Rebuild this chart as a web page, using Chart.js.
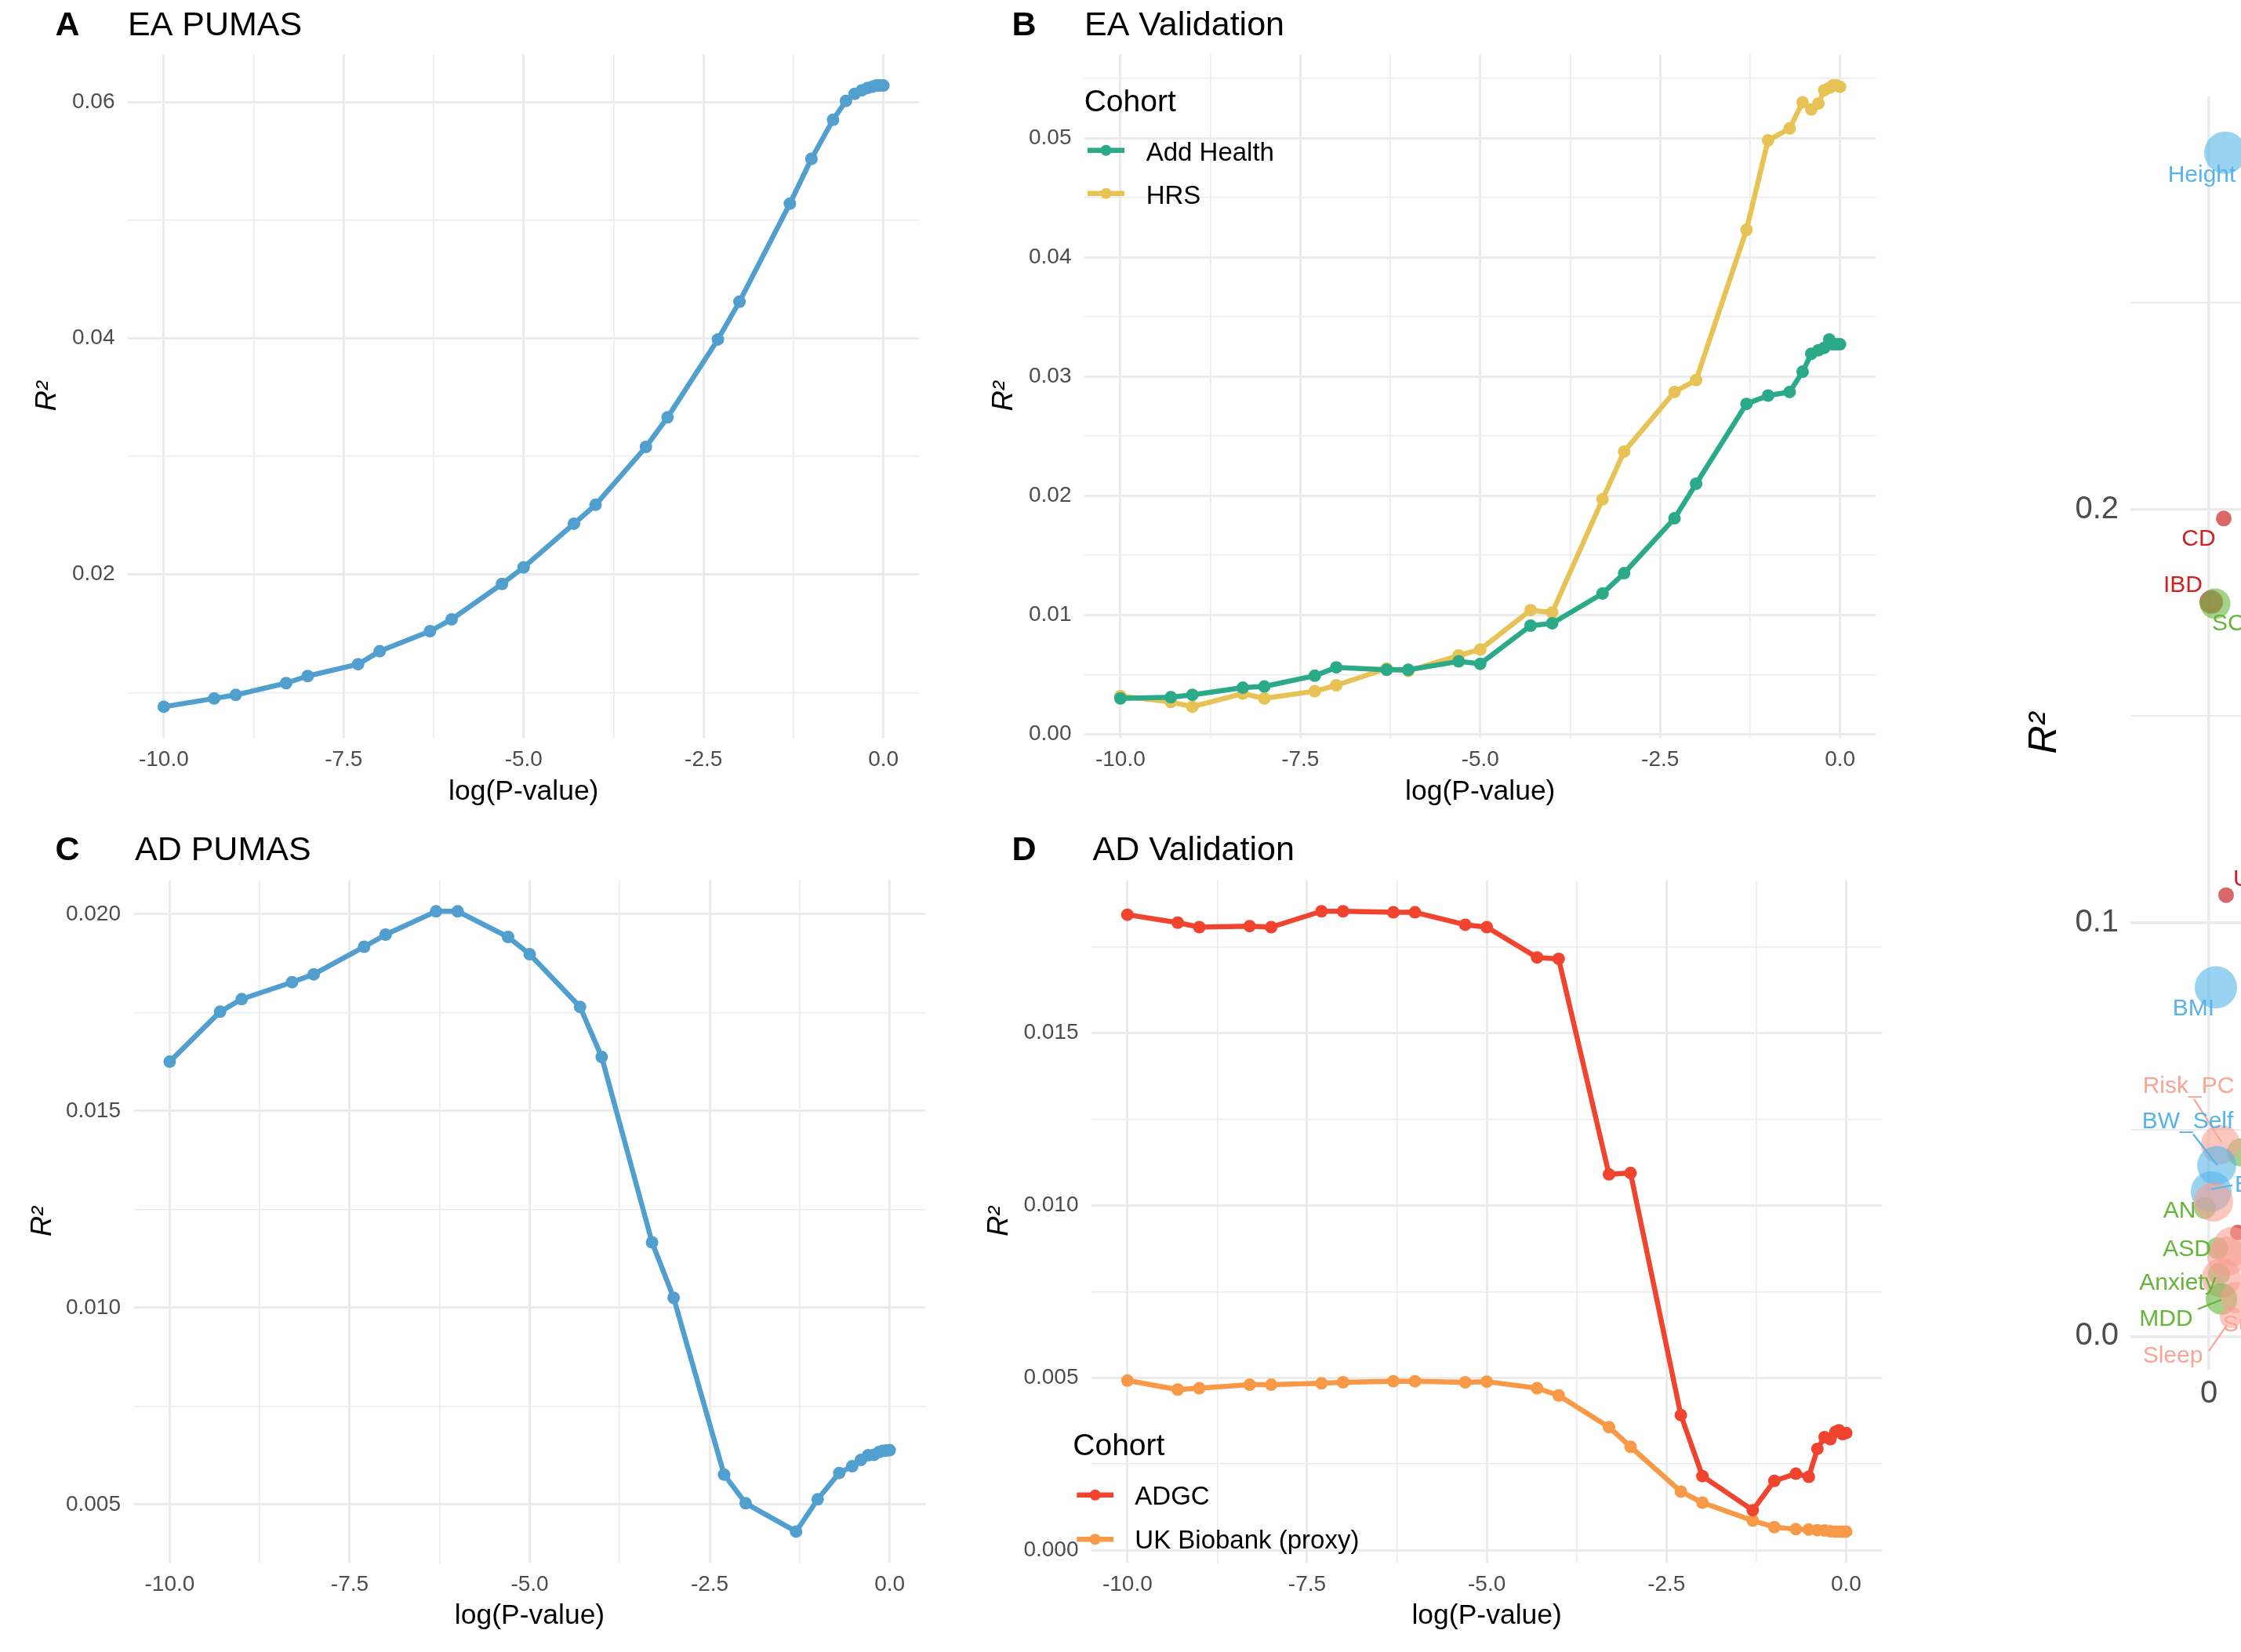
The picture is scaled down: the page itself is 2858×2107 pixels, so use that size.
<!DOCTYPE html>
<html>
<head>
<meta charset="utf-8">
<title>PUMAS R² across p-value thresholds</title>
<script src="https://cdn.jsdelivr.net/npm/chart.js@4.4.1/dist/chart.umd.min.js"></script>
<style>
  html, body { margin: 0; padding: 0; background: #ffffff; overflow: hidden; }
  body { position: relative; width: 2858px; height: 2107px; }
  canvas { position: absolute; display: block; }
</style>
</head>
<body>
<canvas id="panelA" width="1220" height="1050" style="left:0px;top:0px;width:1220px;height:1050px"></canvas>
<canvas id="panelB" width="1230" height="1050" style="left:1220px;top:0px;width:1230px;height:1050px"></canvas>
<canvas id="panelC" width="1220" height="1057" style="left:0px;top:1050px;width:1220px;height:1057px"></canvas>
<canvas id="panelD" width="1230" height="1057" style="left:1220px;top:1050px;width:1230px;height:1057px"></canvas>
<canvas id="panelE" width="1400" height="2107" style="left:2560px;top:0px;width:1400px;height:2107px"></canvas>
<script>
// ---------------------------------------------------------------------------
// Data
// ---------------------------------------------------------------------------
// x positions: log10 of the GWAS p-value cut-off used to build each score
const logP = [-10, -9.3, -9, -8.3, -8, -7.3, -7, -6.3, -6, -5.3, -5, -4.3, -4, -3.3,
              -3, -2.3, -2, -1.3, -1, -0.7, -0.52, -0.4, -0.3, -0.22, -0.15, -0.1, -0.05, 0];

// A: educational attainment, PUMAS estimate
const eaPumasR2 = [0.0088, 0.0095, 0.0098, 0.0108, 0.0114, 0.0124, 0.0135, 0.0152, 0.0162, 0.0192,
                   0.0206, 0.0243, 0.0259, 0.0308, 0.0333, 0.0399, 0.0431, 0.0514, 0.0552, 0.0585,
                   0.0601, 0.0607, 0.0610, 0.0612, 0.0613, 0.0614, 0.0614, 0.0614];

// B: educational attainment, external cohorts
const eaAddHealthR2 = [0.0030, 0.0031, 0.0033, 0.0039, 0.0040, 0.0049, 0.0056, 0.0054, 0.0054, 0.0061,
                       0.0059, 0.0091, 0.0093, 0.0118, 0.0135, 0.0181, 0.0210, 0.0277, 0.0284, 0.0287,
                       0.0304, 0.0319, 0.0322, 0.0324, 0.0331, 0.0327, 0.0327, 0.0327];
const eaHrsR2 = [0.0032, 0.0027, 0.0023, 0.0034, 0.0030, 0.0036, 0.0041, 0.0055, 0.0053, 0.0066,
                 0.0071, 0.0104, 0.0102, 0.0197, 0.0237, 0.0287, 0.0297, 0.0423, 0.0498, 0.0508,
                 0.0530, 0.0524, 0.0529, 0.0540, 0.0542, 0.0544, 0.0544, 0.0543];

// C: Alzheimer's disease, PUMAS estimate
const adPumasR2 = [0.01625, 0.01752, 0.01784, 0.01827, 0.01847, 0.01917, 0.01948, 0.02007, 0.02007, 0.01942,
                   0.01898, 0.01764, 0.01637, 0.01166, 0.01025, 0.00576, 0.00503, 0.00431, 0.00513, 0.00580,
                   0.00597, 0.00613, 0.00625, 0.00626, 0.00633, 0.00636, 0.00637, 0.00638];

// D: Alzheimer's disease, external cohorts
const adAdgcR2 = [0.01843, 0.01820, 0.01807, 0.01810, 0.01807, 0.01853, 0.01853, 0.01850, 0.01850, 0.01814,
                  0.01807, 0.01719, 0.01715, 0.01090, 0.01094, 0.00392, 0.00215, 0.00116, 0.00201, 0.00222,
                  0.00213, 0.00294, 0.00328, 0.00322, 0.00343, 0.00348, 0.00337, 0.00340];
const adUkbR2 = [0.00492, 0.00466, 0.00470, 0.00480, 0.00480, 0.00484, 0.00487, 0.00490, 0.00490, 0.00487,
                 0.00489, 0.00470, 0.00449, 0.00357, 0.00300, 0.00170, 0.00138, 0.00086, 0.00067, 0.00061,
                 0.00060, 0.00058, 0.00057, 0.00055, 0.00054, 0.00054, 0.00054, 0.00054];

// Labelled tick positions on the p-value axis
const xTickValues = [-10, -7.5, -5, -2.5, 0];
const xTickLabels = ['-10.0', '-7.5', '-5.0', '-2.5', '0.0'];

// E: trait overview (bubble radius encodes the bubble size value)
const eTraits  = ['AN', 'ASD', 'Anxiety', 'Height', 'CD', 'IBD', 'SCZ', 'UC', 'BMI', '',
                  'Risk_PC', 'BW_Self', 'BW_Fetal', '', '', '', '', '', 'MDD', 'Suicide', 'Sleep'];
const eGroups  = ['psych', 'psych', 'psych', 'anthro', 'immune', 'immune', 'psych', 'immune', 'anthro', 'psych',
                  'other', 'anthro', 'anthro', 'other', 'immune', 'other', 'other', 'other', 'psych', 'other', 'other'];
const eX       = [-0.005, 0.011, 0.013, 0.021, 0.019, 0.003, 0.008, 0.022, 0.009, 0.041,
                  0.015, 0.010, 0.003, 0.006, 0.037, 0.030, 0.023, 0.016, 0.016, 0.035, 0.028];
const eY       = [0.0310, 0.0213, 0.0151, 0.2863, 0.1978, 0.1776, 0.1772, 0.1067, 0.0844, 0.0445,
                  0.0464, 0.0413, 0.0350, 0.0325, 0.0251, 0.0217, 0.0193, 0.0141, 0.0090, 0.0094, 0.0046];
const eRadius  = [14, 14, 14, 27, 10, 15, 19.5, 10, 27, 18,
                  25, 25, 26, 25, 10, 25, 25, 25, 20, 20, 14];

// ---------------------------------------------------------------------------
// Styling
// ---------------------------------------------------------------------------
const FONT = "'Liberation Sans', Arial, Helvetica, sans-serif";
const GRID = '#EBEBEB';
const TICK_TEXT = '#4D4D4D';

Chart.defaults.font.family = FONT;
Chart.defaults.color = TICK_TEXT;
Chart.defaults.animation = false;

const groupFill = {
  anthro: 'rgba(86,180,233,0.6)',
  immune: 'rgba(204,40,40,0.7)',
  psych:  'rgba(102,180,60,0.6)',
  other:  'rgba(248,160,145,0.6)'
};
const groupText = {
  anthro: '#56B4E9',
  immune: '#CC2222',
  psych:  '#66B43C',
  other:  '#F8A598'
};

const near = (v, step) => Math.abs(v / step - Math.round(v / step)) < 1e-6;

// ggplot-style 5% expansion around the data
function paddedRange(arrays, frac) {
  const all = [].concat(...arrays);
  const lo = Math.min(...all), hi = Math.max(...all);
  const pad = (hi - lo) * frac;
  return [lo - pad, hi + pad];
}

// ---------------------------------------------------------------------------
// Plugins
// ---------------------------------------------------------------------------
const panelTitle = {
  id: 'panelTitle',
  afterDraw(chart, _args, o) {
    const { ctx, chartArea } = chart;
    ctx.save();
    ctx.fillStyle = '#000000';
    ctx.textAlign = 'left';
    ctx.textBaseline = 'alphabetic';
    const base = o.capMid + 0.358 * o.size;
    ctx.font = `bold ${o.size}px ${FONT}`;
    ctx.fillText(o.tag, o.tagX, base);
    ctx.font = `${o.size}px ${FONT}`;
    ctx.fillText(o.text, chartArea.left + o.gap, base);
    ctx.restore();
  }
};

const cohortKey = {
  id: 'cohortKey',
  afterDraw(chart, _args, o) {
    const ctx = chart.ctx;
    ctx.save();
    ctx.textAlign = 'left';
    ctx.textBaseline = 'alphabetic';
    ctx.fillStyle = '#000000';
    ctx.font = `${o.titleSize}px ${FONT}`;
    ctx.fillText(o.title, o.x, o.titleMid + 0.358 * o.titleSize);
    chart.data.datasets.forEach((ds, i) => {
      const y = o.keyY[i];
      ctx.strokeStyle = ds.borderColor;
      ctx.lineWidth = ds.borderWidth;
      ctx.lineCap = 'butt';
      ctx.beginPath();
      ctx.moveTo(o.keyX0, y);
      ctx.lineTo(o.keyX1, y);
      ctx.stroke();
      ctx.fillStyle = ds.borderColor;
      ctx.beginPath();
      ctx.arc((o.keyX0 + o.keyX1) / 2, y, o.keyR, 0, Math.PI * 2);
      ctx.fill();
      ctx.fillStyle = '#000000';
      ctx.font = `${o.textSize}px ${FONT}`;
      ctx.fillText(ds.label, o.textX, o.keyY[i] + 0.358 * o.textSize + o.textShift);
    });
    ctx.restore();
  }
};

const bubbleLabels = {
  id: 'bubbleLabels',
  afterDatasetsDraw(chart, _args, o) {
    const ctx = chart.ctx;
    const meta = chart.getDatasetMeta(0);
    ctx.save();
    ctx.font = `${o.size}px ${FONT}`;
    ctx.textBaseline = 'alphabetic';
    o.items.forEach(it => {
      const idx = eTraits.indexOf(it.trait);
      const el = meta.data[idx];
      if (!el) return;
      const col = groupText[eGroups[idx]];
      if (it.leader) {
        ctx.strokeStyle = col;
        ctx.lineWidth = 2.2;
        ctx.beginPath();
        ctx.moveTo(el.x + it.leader[0], el.y + it.leader[1]);
        ctx.lineTo(el.x + it.leader[2], el.y + it.leader[3]);
        ctx.stroke();
      }
      ctx.fillStyle = col;
      ctx.textAlign = it.align || 'center';
      ctx.fillText(it.trait, el.x + it.dx, el.y + it.dy + 0.358 * o.size);
    });
    ctx.restore();
  }
};

// ---------------------------------------------------------------------------
// Axis builders
// ---------------------------------------------------------------------------
function pAxis(tickPad, titlePadBottom, boxHeight) {
  return {
    type: 'linear',
    min: -10.5,
    max: 0.5,
    border: { display: false },
    grid: {
      drawTicks: false,
      color: GRID,
      lineWidth: c => (c.tick && near(c.tick.value, 2.5)) ? 3 : 1.6
    },
    ticks: {
      stepSize: 1.25,
      includeBounds: false,
      autoSkip: false,
      maxRotation: 0,
      padding: tickPad,
      color: TICK_TEXT,
      font: { size: 28 },
      callback: v => {
        const k = xTickValues.findIndex(t => Math.abs(t - v) < 1e-6);
        return k >= 0 ? xTickLabels[k] : '';
      }
    },
    title: {
      display: true,
      text: 'log(P-value)',
      color: '#000000',
      font: { size: 35.5 },
      padding: { top: 0, bottom: titlePadBottom }
    },
    afterFit: s => { s.height = boxHeight; }
  };
}

function r2Axis(range, step, majorStep, decimals, boxWidth, titlePad) {
  return {
    type: 'linear',
    min: range[0],
    max: range[1],
    border: { display: false },
    grid: {
      drawTicks: false,
      color: GRID,
      lineWidth: c => (c.tick && near(c.tick.value, majorStep)) ? 3 : 1.6
    },
    ticks: {
      stepSize: step,
      includeBounds: false,
      autoSkip: false,
      padding: 16.5,
      color: TICK_TEXT,
      font: { size: 28 },
      callback: v => near(v, majorStep) ? v.toFixed(decimals) : ''
    },
    title: {
      display: true,
      text: 'R²',
      color: '#000000',
      font: { size: 36, style: 'italic' },
      padding: { top: titlePad, bottom: 0 }
    },
    afterFit: s => { s.width = boxWidth; }
  };
}

// ---------------------------------------------------------------------------
// Line panels A-D
// ---------------------------------------------------------------------------
function linePanel(id, p) {
  return new Chart(document.getElementById(id), {
    type: 'line',
    data: {
      datasets: p.series.map(s => ({
        label: s.label,
        data: logP.map((x, i) => ({ x: x, y: s.values[i] })),
        borderColor: s.color,
        backgroundColor: s.color,
        pointBackgroundColor: s.color,
        borderWidth: 6.5,
        pointRadius: 8,
        pointHoverRadius: 8,
        pointBorderWidth: 0,
        borderJoinStyle: 'round',
        borderCapStyle: 'round',
        tension: 0,
        fill: false
      }))
    },
    options: {
      responsive: false,
      animation: false,
      events: [],
      layout: { padding: { left: 0, top: p.top, right: p.right, bottom: 0 } },
      scales: {
        x: pAxis(p.xTickPad, p.xTitlePad, p.xBox),
        y: r2Axis(p.yRange, p.yStep, p.yMajor, p.yDecimals, p.yBox, p.yTitlePad)
      },
      plugins: {
        legend: { display: false },
        tooltip: { enabled: false },
        panelTitle: p.title,
        cohortKey: p.key || false
      }
    },
    plugins: [panelTitle, cohortKey]
  });
}

linePanel('panelA', {
  series: [{ label: 'EA PUMAS', values: eaPumasR2, color: '#519FCE' }],
  top: 69.5, right: 47.5, xBox: 109, yBox: 163, xTickPad: 11, xTitlePad: 18.7, yTitlePad: 39,
  yRange: paddedRange([eaPumasR2], 0.05), yStep: 0.01, yMajor: 0.02, yDecimals: 2,
  title: { tag: 'A', text: 'EA PUMAS', tagX: 70.5, capMid: 29.2, size: 43, gap: 0 }
});

linePanel('panelB', {
  series: [
    { label: 'Add Health', values: eaAddHealthR2, color: '#2BAA8A' },
    { label: 'HRS', values: eaHrsR2, color: '#E6C354' }
  ],
  top: 69.5, right: 57.5, xBox: 109, yBox: 163, xTickPad: 11, xTitlePad: 18.7, yTitlePad: 39,
  yRange: paddedRange([eaAddHealthR2, eaHrsR2], 0.05), yStep: 0.005, yMajor: 0.01, yDecimals: 2,
  title: { tag: 'B', text: 'EA Validation', tagX: 70.5, capMid: 29.2, size: 43, gap: 0 },
  key: { title: 'Cohort', x: 162.7, titleMid: 128.3, titleSize: 39,
         keyX0: 167, keyX1: 214, keyR: 7, keyY: [191.7, 246.7],
         textX: 241.7, textSize: 33, textShift: 1 }
});

linePanel('panelC', {
  series: [{ label: 'AD PUMAS', values: adPumasR2, color: '#519FCE' }],
  top: 72.8, right: 39.5, xBox: 114, yBox: 170.5, xTickPad: 11.6, xTitlePad: 24.5, yTitlePad: 33,
  yRange: paddedRange([adPumasR2], 0.05), yStep: 0.0025, yMajor: 0.005, yDecimals: 3,
  title: { tag: 'C', text: 'AD PUMAS', tagX: 70.5, capMid: 31.7, size: 43, gap: 1.5 }
});

linePanel('panelD', {
  series: [
    { label: 'ADGC', values: adAdgcR2, color: '#F0442F' },
    { label: 'UK Biobank (proxy)', values: adUkbR2, color: '#F89947' }
  ],
  top: 72.7, right: 49.7, xBox: 114, yBox: 172, xTickPad: 11.6, xTitlePad: 24.5, yTitlePad: 33,
  yRange: paddedRange([adAdgcR2, adUkbR2], 0.05), yStep: 0.0025, yMajor: 0.005, yDecimals: 3,
  title: { tag: 'D', text: 'AD Validation', tagX: 70.5, capMid: 31.7, size: 43, gap: 1.5 },
  key: { title: 'Cohort', x: 148.3, titleMid: 792.5, titleSize: 39,
         keyX0: 153.3, keyX1: 200, keyR: 7, keyY: [856.7, 913.3],
         textX: 227.3, textSize: 33, textShift: 0 }
});

// ---------------------------------------------------------------------------
// Bubble panel E
// ---------------------------------------------------------------------------
new Chart(document.getElementById('panelE'), {
  type: 'bubble',
  data: {
    datasets: [{
      label: 'Traits',
      data: eX.map((x, i) => ({ x: x, y: eY[i], r: eRadius[i] })),
      backgroundColor: eGroups.map(g => groupFill[g]),
      borderWidth: 0,
      hoverRadius: 0
    }]
  },
  options: {
    responsive: false,
    animation: false,
    events: [],
    layout: { padding: { left: 0, top: 123, right: 143, bottom: 0 } },
    scales: {
      x: {
        type: 'linear',
        min: -0.1,
        max: 1.0,
        border: { display: false },
        grid: {
          drawTicks: false,
          color: GRID,
          lineWidth: c => (c.tick && near(c.tick.value, 0.25)) ? 3.5 : 2
        },
        ticks: {
          stepSize: 0.125,
          includeBounds: false,
          autoSkip: false,
          maxRotation: 0,
          padding: 7,
          color: TICK_TEXT,
          font: { size: 40 },
          callback: v => near(v, 0.25) ? (Math.abs(v) < 1e-9 ? '0' : String(v)) : ''
        },
        afterFit: s => { s.height = 360; }
      },
      y: {
        type: 'linear',
        min: -0.0081,
        max: 0.2999,
        border: { display: false },
        grid: {
          drawTicks: false,
          color: GRID,
          lineWidth: c => (c.tick && near(c.tick.value, 0.1)) ? 3.5 : 2
        },
        ticks: {
          stepSize: 0.05,
          includeBounds: false,
          autoSkip: false,
          padding: 15,
          color: TICK_TEXT,
          font: { size: 40 },
          callback: v => near(v, 0.1) ? v.toFixed(1) : ''
        },
        title: {
          display: true,
          text: 'R²',
          color: '#000000',
          font: { size: 50, style: 'italic' },
          padding: { top: 18, bottom: 0 }
        },
        afterFit: s => { s.width = 157; }
      }
    },
    plugins: {
      legend: { display: false },
      tooltip: { enabled: false },
      bubbleLabels: {
        size: 30,
        items: [
          { trait: 'Height',   dx: -30,   dy: 27 },
          { trait: 'CD',       dx: -32,   dy: 24 },
          { trait: 'IBD',      dx: -36,   dy: -24 },
          { trait: 'SCZ',      dx: -4,    dy: 23, align: 'left' },
          { trait: 'UC',       dx: 9,     dy: -22, align: 'left' },
          { trait: 'BMI',      dx: -28.5, dy: 25 },
          { trait: 'Risk_PC',  dx: -41,   dy: -76, leader: [-34, -58, 1, -3] },
          { trait: 'BW_Self',  dx: -37,   dy: -58, leader: [-30, -40, 1, 0] },
          { trait: 'BW_Fetal', dx: 30,    dy: -10, align: 'left', leader: [0, -3, 27, -8] },
          { trait: 'AN',       dx: -32.5, dy: 1 },
          { trait: 'ASD',      dx: -39,   dy: -1 },
          { trait: 'Anxiety',  dx: -52.5, dy: 10 },
          { trait: 'MDD',      dx: -70.5, dy: 23, leader: [-30, 13, 0, 1] },
          { trait: 'Suicide',  dx: -17,   dy: 33, align: 'left' },
          { trait: 'Sleep',    dx: -74,   dy: 47, leader: [-28, 43, -5, 10] }
        ]
      }
    }
  },
  plugins: [bubbleLabels]
});
</script>
</body>
</html>
